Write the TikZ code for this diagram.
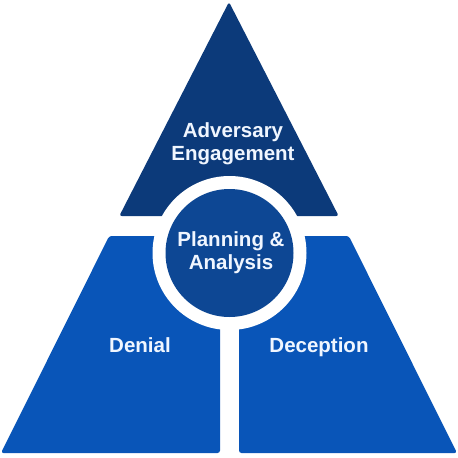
\documentclass[tikz,border=0pt]{standalone}
\usepackage{fontspec}
\setmainfont{Liberation Sans}
\begin{document}
\begin{tikzpicture}[x=1pt,y=-1pt,
  piece/.style={rounded corners=2.5pt},
  lbl/.style={text=labelwhite,font=\bfseries\fontsize{20.5}{23}\selectfont,align=center,inner sep=0pt}]
\definecolor{topnavy}{RGB}{12,58,122}
\definecolor{lowblue}{RGB}{9,85,184}
\definecolor{midblue}{RGB}{13,71,148}
\definecolor{labelwhite}{RGB}{240,246,255}
\useasboundingbox (0,0) rectangle (458,458);
\fill[white] (0,0) rectangle (458,458);
% top triangle
\fill[topnavy,piece] (229,2) -- (119.3,216) -- (338.7,216) -- cycle;
% bottom-left
\fill[lowblue,piece] (109.2,236) -- (220,236) -- (220,453) -- (1,453) -- cycle;
% bottom-right
\fill[lowblue,piece] (239,236) -- (348.8,236) -- (457,453) -- (239,453) -- cycle;
% circle with white ring
\fill[white] (229.5,253) circle (77);
\node[circle,fill=midblue,minimum size=128pt,inner sep=0pt] (center) at (229.5,253) {};
\node[lbl] (adv) at (233,143.5) {Adversary\\Engagement};
\node[lbl] (plan) at (231,253) {Planning \&\\Analysis};
\node[lbl,anchor=base] (den) at (140,352) {Denial};
\node[lbl,anchor=base] (dec) at (319,352) {Deception};
\end{tikzpicture}
\end{document}
